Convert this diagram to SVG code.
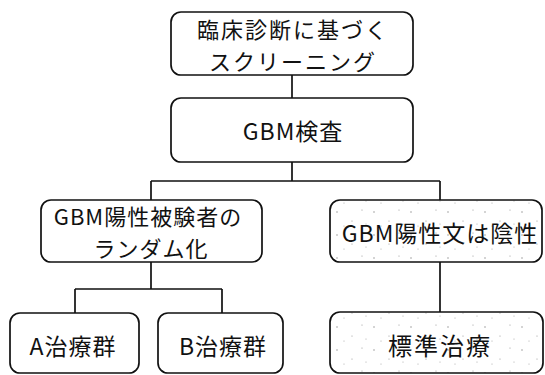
<svg xmlns="http://www.w3.org/2000/svg" width="545" height="375" viewBox="0 0 545 375">
<style>
.box{fill:#fff;stroke:#111;stroke-width:1.7}
.spk{fill:url(#speckle);stroke:#111;stroke-width:1.7}
.t{font-family:"Noto Sans CJK JP","Noto Sans",sans-serif;fill:#111;text-anchor:middle}
.c{fill:none;stroke:#111;stroke-width:1.7}
</style>
<defs>
<pattern id="speckle" width="37" height="23" patternUnits="userSpaceOnUse">
<rect width="37" height="23" fill="#fff"/>
<circle cx="4" cy="5" r="0.7" fill="#888"/>
<circle cx="19" cy="14" r="0.6" fill="#999"/>
<circle cx="29" cy="3" r="0.6" fill="#999"/>
<circle cx="11" cy="19" r="0.6" fill="#aaa"/>
<circle cx="33" cy="17" r="0.5" fill="#999"/>
</pattern>
</defs>
<rect width="545" height="375" fill="#fff"/>
<g id="connectors">
<path class="c" d="M292 75V98"/>
<path class="c" d="M292 162V181M151 181H440M151 181V200M440 181V200"/>
<path class="c" d="M151 262V289M75 289H222M75 289V313M222 289V313"/>
<path class="c" d="M440 262V312"/>
</g>
<g id="screening">
<rect class="box" x="171" y="12" width="242" height="63" rx="10"/>
<text class="t" x="293" y="38" font-size="22" letter-spacing="2">臨床診断に基づく</text>
<text class="t" x="293" y="70" font-size="22" letter-spacing="2">スクリーニング</text>
</g>
<g id="gbm-test">
<rect class="box" x="171" y="98" width="242" height="64" rx="10"/>
<text class="t" x="293" y="140" font-size="23" letter-spacing="1">GBM検査</text>
</g>
<g id="randomize">
<rect class="box" x="41" y="200" width="221" height="62" rx="10"/>
<text class="t" x="148" y="225" font-size="22" letter-spacing="1">GBM陽性被験者の</text>
<text class="t" x="151" y="257" font-size="22" letter-spacing="1">ランダム化</text>
</g>
<g id="pos-neg">
<rect class="spk" x="330" y="200" width="212" height="62" rx="10"/>
<text class="t" x="440" y="242" font-size="23" letter-spacing="1">GBM陽性文は陰性</text>
</g>
<g id="group-a">
<rect class="box" x="10" y="313" width="129" height="60" rx="10"/>
<text class="t" x="73" y="355" font-size="23" letter-spacing="1">A治療群</text>
</g>
<g id="group-b">
<rect class="box" x="158" y="313" width="125" height="60" rx="10"/>
<text class="t" x="223" y="355" font-size="23" letter-spacing="1">B治療群</text>
</g>
<g id="standard">
<rect class="spk" x="330" y="312" width="213" height="61" rx="10"/>
<text class="t" x="440" y="355" font-size="24" letter-spacing="2">標準治療</text>
</g>
</svg>
